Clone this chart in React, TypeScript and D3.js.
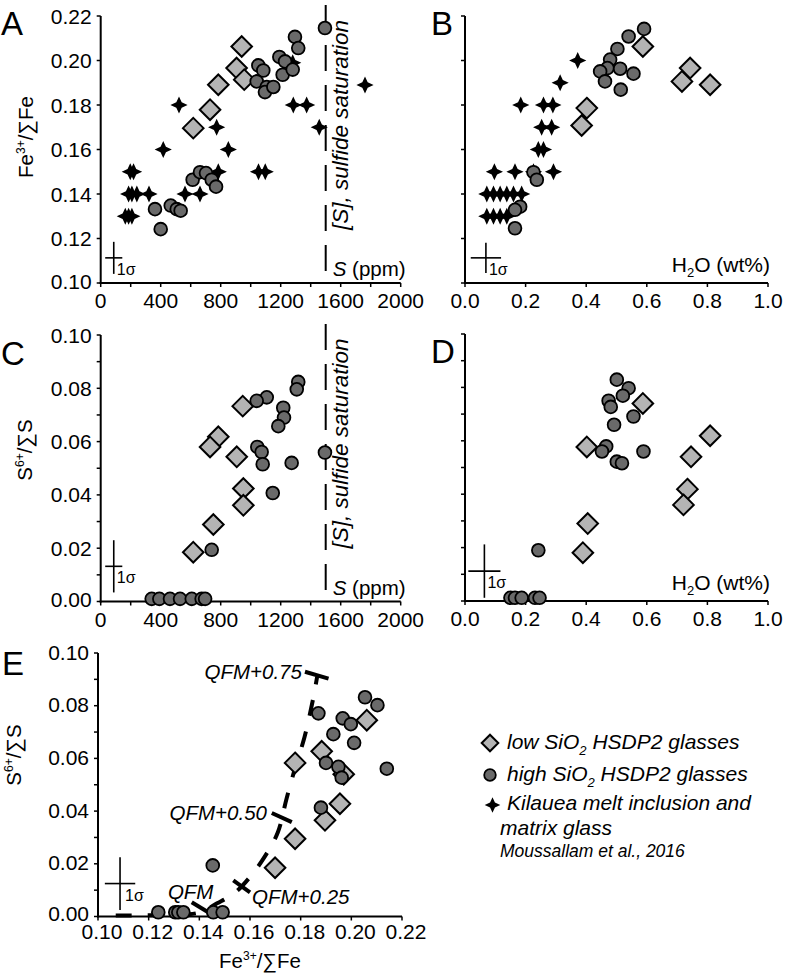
import React from 'react';
import * as d3 from 'd3';

type Pt = [number, number];

// ---------------- DATA ----------------
// Panel A: S (ppm) vs Fe3+/ΣFe
const aLow: Pt[] = [[940, 0.2063], [906, 0.1966], [957, 0.1914], [784, 0.1891], [729, 0.1779], [617, 0.1696]];
const aHigh: Pt[] = [
  [1495, 0.2146], [1295, 0.2106], [1317, 0.2056], [1191, 0.2016], [1229, 0.1996], [1213, 0.1936], [1280, 0.1959],
  [1051, 0.1978], [1084, 0.1955], [1040, 0.1906], [1107, 0.1881], [1095, 0.1858], [1151, 0.1881],
  [362, 0.1332], [400, 0.1242], [467, 0.1348], [507, 0.1332], [533, 0.1325], [613, 0.1464], [662, 0.1498],
  [702, 0.1494], [740, 0.1464], [769, 0.1433],
];
const aKil: Pt[] = [
  [1762, 0.189], [1280, 0.199], [1284, 0.18], [1373, 0.18], [1457, 0.17], [522, 0.18], [417, 0.16], [773, 0.17],
  [851, 0.16], [784, 0.15], [1052, 0.15], [1097, 0.15], [562, 0.14], [662, 0.14], [197, 0.15], [219, 0.15],
  [186, 0.14], [208, 0.14], [241, 0.14], [322, 0.14], [164, 0.13], [186, 0.13], [208, 0.13],
];

// Panel B: H2O (wt%) vs Fe3+/ΣFe
const bLow: Pt[] = [[0.587, 0.2063], [0.743, 0.1966], [0.716, 0.1906], [0.809, 0.1891], [0.402, 0.1786], [0.385, 0.1708]];
const bHigh: Pt[] = [
  [0.591, 0.2142], [0.54, 0.2108], [0.503, 0.2052], [0.479, 0.2004], [0.47, 0.1966], [0.446, 0.1951], [0.512, 0.1963],
  [0.556, 0.1941], [0.462, 0.1906], [0.514, 0.1869], [0.226, 0.1498], [0.237, 0.1464], [0.182, 0.1343],
  [0.165, 0.1329], [0.165, 0.1246],
];
const bKil: Pt[] = [
  [0.372, 0.2], [0.314, 0.19], [0.184, 0.18], [0.259, 0.18], [0.29, 0.18], [0.253, 0.17], [0.286, 0.17],
  [0.242, 0.16], [0.259, 0.16], [0.097, 0.15], [0.165, 0.15], [0.226, 0.15], [0.292, 0.15],
  [0.072, 0.14], [0.094, 0.14], [0.116, 0.14], [0.138, 0.14], [0.16, 0.14], [0.187, 0.14],
  [0.072, 0.13], [0.094, 0.13], [0.116, 0.13], [0.138, 0.13],
];

// Panel C: S (ppm) vs S6+/ΣS
const cLow: Pt[] = [[947, 0.0733], [784, 0.0618], [729, 0.058], [907, 0.0543], [951, 0.0424], [951, 0.0361], [751, 0.0289], [617, 0.0185]];
const cHigh: Pt[] = [
  [1495, 0.0559], [1317, 0.0824], [1307, 0.0796], [1217, 0.0727], [1222, 0.069], [1184, 0.0658], [1273, 0.052],
  [1107, 0.0766], [1040, 0.0753], [1044, 0.058], [1073, 0.0561], [1080, 0.0515], [1147, 0.0407], [740, 0.0194],
  [340, 0.001], [391, 0.001], [462, 0.001], [529, 0.001], [607, 0.001], [673, 0.001], [696, 0.001],
];

// Panel D: H2O (wt%) vs S6+/ΣS
const dLow: Pt[] = [[0.587, 0.074], [0.402, 0.0577], [0.809, 0.0619], [0.746, 0.054], [0.734, 0.0419], [0.721, 0.036], [0.405, 0.029], [0.389, 0.0181]];
const dHigh: Pt[] = [
  [0.501, 0.0829], [0.54, 0.0797], [0.521, 0.0769], [0.474, 0.075], [0.481, 0.0727], [0.556, 0.0691], [0.492, 0.066],
  [0.466, 0.0579], [0.452, 0.056], [0.589, 0.056], [0.501, 0.0522], [0.518, 0.0516], [0.242, 0.019],
  [0.15, 0.0012], [0.165, 0.0012], [0.187, 0.0012], [0.231, 0.0012], [0.246, 0.0012],
];

// Panel E: Fe3+/ΣFe vs S6+/ΣS
const eLow: Pt[] = [[0.2061, 0.0745], [0.1883, 0.0627], [0.1778, 0.0583], [0.197, 0.054], [0.1955, 0.0428], [0.1896, 0.0365], [0.1778, 0.0295], [0.1699, 0.0185]];
const eHigh: Pt[] = [
  [0.2054, 0.0832], [0.2103, 0.0802], [0.214, 0.0561], [0.1966, 0.0752], [0.1998, 0.073], [0.2011, 0.0659],
  [0.1929, 0.0692], [0.187, 0.0771], [0.19, 0.0583], [0.1949, 0.0568], [0.1962, 0.0527], [0.188, 0.0413],
  [0.1453, 0.0194], [0.1238, 0.0016], [0.1305, 0.0016], [0.1317, 0.0016], [0.1337, 0.0016], [0.1455, 0.0016], [0.1492, 0.0016],
];
const qfmCurve: Pt[] = [
  [0.107, 0.0004], [0.125, 0.0006], [0.14, 0.0015], [0.147, 0.005], [0.154, 0.009], [0.16, 0.015], [0.166, 0.023],
  [0.171, 0.032], [0.1745, 0.045], [0.178, 0.057], [0.1815, 0.068], [0.185, 0.083], [0.1865, 0.091],
];
const qfmMarks: Pt[][] = [
  [[0.137, 0.0054], [0.1435, 0.0016]],
  [[0.1534, 0.0137], [0.16, 0.0092]],
  [[0.1686, 0.0393], [0.1765, 0.0358]],
  [[0.1817, 0.0929], [0.191, 0.0903]],
];
const qfmLabels = ['QFM', 'QFM+0.25', 'QFM+0.50', 'QFM+0.75'];
const qfmLabelAnchors: Pt[] = [[0.1276, 0.0068], [0.1608, 0.0046], [0.1667, 0.0365], [0.1805, 0.0901]];
const qfmLabelAlign = ['start', 'start', 'end', 'end'];

// Sulfide saturation S content (ppm)
const sulfideSat = 1500;

// 1σ error crosses: [center, half-x, half-y]
const sigmaA = { c: [87, 0.1113] as Pt, hx: 57, hy: 0.0072 };
const sigmaB = { c: [0.069, 0.1113] as Pt, hx: 0.05, hy: 0.0068 };
const sigmaC = { c: [87, 0.0132] as Pt, hx: 57, hy: 0.0098 };
const sigmaD = { c: [0.064, 0.0112] as Pt, hx: 0.053, hy: 0.01 };
const sigmaE = { c: [0.1087, 0.0125] as Pt, hx: 0.006, hy: 0.01 };

// Ticks
const sLabels = [0, 400, 800, 1200, 1600, 2000];
const sTicks = [0, 200, 400, 600, 800, 1000, 1200, 1400, 1600, 1800, 2000];
const h2oLabels = [0, 0.2, 0.4, 0.6, 0.8, 1.0];
const feLabels = [0.1, 0.12, 0.14, 0.16, 0.18, 0.2, 0.22];
const s6Labels = [0, 0.02, 0.04, 0.06, 0.08, 0.1];
const s6Ticks = [0, 0.01, 0.02, 0.03, 0.04, 0.05, 0.06, 0.07, 0.08, 0.09, 0.1];

const legendItems = [
  { kind: 'diamond', a: 'low SiO', sub: '2', b: ' HSDP2 glasses' },
  { kind: 'circle', a: 'high SiO', sub: '2', b: ' HSDP2 glasses' },
  { kind: 'star', a: 'Kilauea melt inclusion and', sub: '', b: '' },
];
const legendExtra = ['matrix glass'];
const legendRef = 'Moussallam et al., 2016';

// ---------------- STYLE ----------------
const FONT = '"Liberation Sans", Arial, Helvetica, sans-serif';
const LOW_FILL = '#b4b4b4';
const HIGH_FILL = '#6a6a6a';
const TICK_FS = 21;

// ---------------- SCALES ----------------
const xS = d3.scaleLinear().domain([0, 2000]).range([100.7, 400.7]);
const xH_top = d3.scaleLinear().domain([0, 1]).range([465, 768]);
const yFeA = d3.scaleLinear().domain([0.1, 0.22]).range([283, 16]);
const yS6C = d3.scaleLinear().domain([0, 0.1]).range([601.5, 335]);
const yS6D = d3.scaleLinear().domain([0, 0.1]).range([601, 334]);
const xFeE = d3.scaleLinear().domain([0.1, 0.22]).range([98, 402]);
const yS6E = d3.scaleLinear().domain([0, 0.1]).range([916.5, 653]);

const diamondPath = (h: number) => `M0,${-h}L${h},0L0,${h}L${-h},0Z`;
function starPath(R: number) {
  const pts: string[] = [];
  for (let i = 0; i < 8; i++) {
    const a = -Math.PI / 2 + (i * Math.PI) / 4;
    const rr = i % 2 === 0 ? R : R * 0.44;
    pts.push(`${(Math.cos(a) * rr).toFixed(2)},${(Math.sin(a) * rr).toFixed(2)}`);
  }
  return 'M' + pts.join('L') + 'Z';
}

type Sc = d3.ScaleLinear<number, number>;

function Axes(p: {
  x: Sc; y: Sc; xTicks: number[]; xLabels: number[]; xFmt: (v: number) => string;
  yTicks: number[]; yLabels?: number[]; yFmt?: (v: number) => string; xLabelDy: number;
  xLabelDx?: number; yLabelDy?: number;
}) {
  const [x0, x1] = p.x.range();
  const [y0, y1] = p.y.range();
  const xdx = p.xLabelDx ?? 0;
  const ydy = p.yLabelDy ?? 7.5;
  return (
    <g>
      <line x1={x0} x2={x0} y1={y0 + 1} y2={y1} stroke="#000" strokeWidth={2} />
      <line x1={x0 - 1} x2={x1} y1={y0} y2={y0} stroke="#000" strokeWidth={2} />
      {p.yTicks.map((t, i) => (
        <line key={'yt' + i} x1={x0 - 4} x2={x0} y1={p.y(t)} y2={p.y(t)} stroke="#000" strokeWidth={1.5} />
      ))}
      {p.xTicks.map((t, i) => (
        <line key={'xt' + i} x1={p.x(t)} x2={p.x(t)} y1={y0} y2={y0 + 4} stroke="#000" strokeWidth={1.5} />
      ))}
      {p.yLabels && p.yFmt && p.yLabels.map((t, i) => (
        <text key={'yl' + i} x={x0 - 9} y={p.y(t) + (i === 0 ? ydy - 2 : ydy)} textAnchor="end" fontSize={TICK_FS}>{p.yFmt!(t)}</text>
      ))}
      {p.xLabels.map((t, i) => (
        <text key={'xl' + i} x={p.x(t) + xdx} y={y0 + p.xLabelDy} textAnchor="middle" fontSize={TICK_FS}>{p.xFmt(t)}</text>
      ))}
    </g>
  );
}

function Marks({ x, y, low, high, kil }: { x: Sc; y: Sc; low?: Pt[]; high?: Pt[]; kil?: Pt[] }) {
  return (
    <g>
      {kil && kil.map(([a, b], i) => (
        <path key={'k' + i} d={starPath(8.6)} transform={`translate(${x(a)},${y(b)})`} fill="#000" />
      ))}
      {low && low.map(([a, b], i) => (
        <path key={'l' + i} d={diamondPath(10.3)} transform={`translate(${x(a)},${y(b)})`} fill={LOW_FILL} stroke="#000" strokeWidth={2} />
      ))}
      {high && high.map(([a, b], i) => (
        <circle key={'h' + i} cx={x(a)} cy={y(b)} r={6.4} fill={HIGH_FILL} stroke="#000" strokeWidth={1.8} />
      ))}
    </g>
  );
}

function Sigma({ s, x, y, dx = 3 }: { s: { c: Pt; hx: number; hy: number }; x: Sc; y: Sc; dx?: number }) {
  const cx = x(s.c[0]);
  const cy = y(s.c[1]);
  return (
    <g stroke="#000" strokeWidth={1.6}>
      <line x1={x(s.c[0] - s.hx)} x2={x(s.c[0] + s.hx)} y1={cy} y2={cy} />
      <line x1={cx} x2={cx} y1={y(s.c[1] - s.hy)} y2={y(s.c[1] + s.hy)} />
      <text x={cx + dx} y={cy + 17} fontSize={16} stroke="none" fill="#000">1σ</text>
    </g>
  );
}

function FeTitle({ size = 20 }: { size?: number }) {
  return (
    <>
      Fe<tspan fontSize={size * 0.6} dy={-8}>3+</tspan><tspan dy={8}>/∑Fe</tspan>
    </>
  );
}
function S6Title({ size = 20 }: { size?: number }) {
  return (
    <>
      S<tspan fontSize={size * 0.6} dy={-8}>6+</tspan><tspan dy={8}>/∑S</tspan>
    </>
  );
}

function SatLine({ y }: { y: Sc }) {
  const [y0, y1] = y.range();
  const x = xS(sulfideSat);
  return (
    <g>
      <line x1={x} x2={x} y1={y1 - 11} y2={y0} stroke="#000" strokeWidth={2} strokeDasharray="26,14" />
      <text transform={`translate(${x + 22},${y0 - 53}) rotate(-90)`} fontSize={22.5} fontStyle="italic">
        [S], sulfide saturation
      </text>
      <text x={x + 7} y={y0 - 7} fontSize={20.5}>
        <tspan fontStyle="italic">S</tspan> (ppm)
      </text>
    </g>
  );
}

function H2OLabel({ y }: { y: Sc }) {
  const [y0] = y.range();
  return (
    <text x={xH_top(1) + 2} y={y0 - 11} fontSize={21} textAnchor="end">
      H<tspan fontSize={13} dy={5}>2</tspan><tspan dy={-5}>O (wt%)</tspan>
    </text>
  );
}

export default function App() {
  const f2 = (v: number) => v.toFixed(2);
  const f1 = (v: number) => v.toFixed(1);
  const f0 = (v: number) => String(v);
  const line = d3.line<Pt>().x(d => xFeE(d[0])).y(d => yS6E(d[1])).curve(d3.curveCatmullRom.alpha(0.5));

  return (
    <svg
      width={796}
      height={978}
      style={{ position: 'absolute', left: 0, top: 0, background: '#fff' }}
      fontFamily={FONT}
      fill="#000"
    >
      <rect x={0} y={0} width={796} height={978} fill="#fff" />

      {/* Panel A */}
      <text x={1} y={35} fontSize={33}>A</text>
      <text transform="translate(33,137) rotate(-90)" textAnchor="middle" fontSize={20.5}><FeTitle /></text>
      <Axes x={xS} y={yFeA} xTicks={sTicks} xLabels={sLabels} xFmt={f0} yTicks={feLabels} yLabels={feLabels} yFmt={f2} xLabelDy={25} />
      <SatLine y={yFeA} />
      <Marks x={xS} y={yFeA} low={aLow} high={aHigh} kil={aKil} />
      <Sigma s={sigmaA} x={xS} y={yFeA} />

      {/* Panel B */}
      <text x={431} y={35} fontSize={33}>B</text>
      <Axes x={xH_top} y={yFeA} xTicks={h2oLabels} xLabels={h2oLabels} xFmt={f1} yTicks={feLabels} xLabelDy={25} />
      <H2OLabel y={yFeA} />
      <Marks x={xH_top} y={yFeA} low={bLow} high={bHigh} kil={bKil} />
      <Sigma s={sigmaB} x={xH_top} y={yFeA} />

      {/* Panel C */}
      <text x={1} y={365} fontSize={33}>C</text>
      <text transform="translate(32,450) rotate(-90)" textAnchor="middle" fontSize={20.5}><S6Title /></text>
      <Axes x={xS} y={yS6C} xTicks={sTicks} xLabels={sLabels} xFmt={f0} yTicks={s6Ticks} yLabels={s6Labels} yFmt={f2} xLabelDy={25} />
      <SatLine y={yS6C} />
      <Marks x={xS} y={yS6C} low={cLow} high={cHigh} />
      <Sigma s={sigmaC} x={xS} y={yS6C} />

      {/* Panel D */}
      <text x={431} y={363} fontSize={33}>D</text>
      <Axes x={xH_top} y={yS6D} xTicks={h2oLabels} xLabels={h2oLabels} xFmt={f1} yTicks={s6Ticks} xLabelDy={25} />
      <H2OLabel y={yS6D} />
      <Marks x={xH_top} y={yS6D} low={dLow} high={dHigh} />
      <Sigma s={sigmaD} x={xH_top} y={yS6D} />

      {/* Panel E */}
      <text x={2} y={675} fontSize={33}>E</text>
      <text transform="translate(21,755) rotate(-90)" textAnchor="middle" fontSize={20.5}><S6Title /></text>
      <Axes x={xFeE} y={yS6E} xTicks={feLabels} xLabels={feLabels} xFmt={f2} yTicks={s6Ticks} yLabels={s6Labels} yFmt={f2} xLabelDy={22.5} xLabelDx={4} yLabelDy={6.5} />
      <text x={260} y={968} textAnchor="middle" fontSize={20.5}><FeTitle /></text>
      <path d={line(qfmCurve) || ''} fill="none" stroke="#000" strokeWidth={4} strokeDasharray="16,16" />
      {qfmMarks.map((m, i) => (
        <line key={'qm' + i} x1={xFeE(m[0][0])} y1={yS6E(m[0][1])} x2={xFeE(m[1][0])} y2={yS6E(m[1][1])} stroke="#000" strokeWidth={4} />
      ))}
      {qfmLabels.map((t, i) => (
        <text key={'ql' + i} x={xFeE(qfmLabelAnchors[i][0])} y={yS6E(qfmLabelAnchors[i][1])} textAnchor={qfmLabelAlign[i] as any} fontSize={20.5} fontStyle="italic">{t}</text>
      ))}
      <Marks x={xFeE} y={yS6E} low={eLow} high={eHigh} />
      <Sigma s={sigmaE} x={xFeE} y={yS6E} dx={5} />

      {/* Legend */}
      <g>
        {legendItems.map((it, i) => {
          const ly = [749, 781, 810][i];
          const my = [743, 775, 805][i];
          return (
            <g key={'lg' + i}>
              {it.kind === 'diamond' && <path d={diamondPath(8.3)} transform={`translate(490,${my})`} fill={LOW_FILL} stroke="#000" strokeWidth={2} />}
              {it.kind === 'circle' && <circle cx={490} cy={my} r={5.8} fill={HIGH_FILL} stroke="#000" strokeWidth={1.8} />}
              {it.kind === 'star' && <path d={starPath(7.8)} transform={`translate(492.5,${my})`} fill="#000" />}
              <text x={507} y={ly} fontSize={21} fontStyle="italic">
                {it.a}
                {it.sub && <tspan fontSize={13} dy={6}>{it.sub}</tspan>}
                {it.sub && <tspan dy={-6}>{it.b}</tspan>}
              </text>
            </g>
          );
        })}
        <text x={500} y={835} fontSize={21} fontStyle="italic">{legendExtra[0]}</text>
        <text x={500} y={857} fontSize={17.5} fontStyle="italic">{legendRef}</text>
      </g>
    </svg>
  );
}
